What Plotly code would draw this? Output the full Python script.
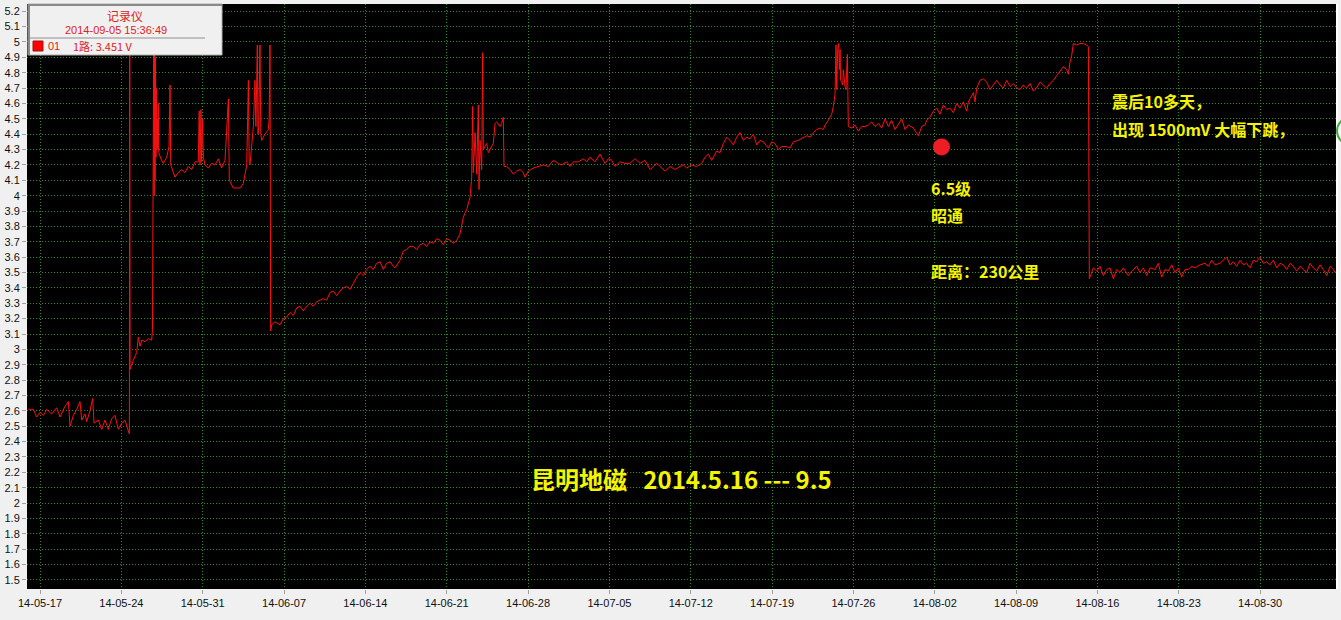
import pandas as pd
import plotly.graph_objects as go

# days since 2014-05-17 00:00, voltage in V
may_days = [-1.00, -0.57, -0.29, 0.00, 0.29, 0.57, 1.00, 1.43, 1.72, 2.15, 2.44, 2.58, 2.87, 3.16, 3.44,
            3.59, 3.87, 4.02, 4.30, 4.53, 4.65, 5.02, 5.31, 5.59, 5.88, 6.17, 6.45, 6.74, 7.03, 7.31,
            7.60, 7.69, 7.72, 7.75, 8.03, 8.32, 8.46, 8.61, 8.75, 9.04, 9.32, 9.61, 9.68,
            9.72, 9.75, 9.78, 9.82, 9.86, 9.90, 9.94, 9.98, 10.02, 10.06, 10.10, 10.14, 10.18, 10.22,
            10.40, 10.61, 10.90, 11.10, 11.19, 11.25, 11.62, 11.90, 12.19, 12.48, 12.76, 13.05, 13.34,
            13.62, 13.70, 13.77, 13.85, 13.91, 13.98, 14.06, 14.20, 14.49, 14.77, 15.06, 15.35, 15.63,
            15.92, 16.21, 16.29, 16.64, 17.21, 17.50, 17.79, 17.93, 18.00, 18.07, 18.22, 18.36, 18.50,
            18.58, 18.70, 18.76, 18.82, 18.93, 19.00, 19.08, 19.36, 19.65, 19.72, 19.79, 19.85]
may_volts = [2.61, 2.61, 2.56, 2.59, 2.57, 2.61, 2.58, 2.62, 2.56, 2.63, 2.66, 2.50, 2.57, 2.61, 2.66,
             2.54, 2.58, 2.53, 2.60, 2.68, 2.52, 2.54, 2.48, 2.54, 2.48, 2.55, 2.57, 2.48, 2.52, 2.54,
             2.47, 2.45, 5.00, 2.87, 2.93, 2.98, 3.08, 3.02, 3.06, 3.05, 3.07, 3.06, 3.13,
             4.90, 3.92, 5.00, 4.00, 4.95, 4.10, 4.90, 4.25, 4.70, 4.30, 4.50, 4.30, 4.60, 4.28,
             4.24, 4.21, 4.25, 4.32, 4.72, 4.20, 4.12, 4.15, 4.17, 4.15, 4.19, 4.17, 4.22,
             4.22, 4.55, 4.20, 4.56, 4.22, 4.50, 4.25, 4.20, 4.18, 4.21, 4.20, 4.24, 4.18,
             4.23, 4.63, 4.10, 4.05, 4.05, 4.08, 4.20, 4.75, 4.22, 4.20, 4.36, 4.45, 4.75,
             4.45, 4.98, 4.40, 4.45, 4.98, 4.40, 4.36, 4.40, 4.43, 4.50, 4.98, 3.12]

june_days = [19.94, 20.22, 20.51, 20.65, 20.94, 21.23, 21.51, 21.80, 22.09, 22.38, 22.66, 22.95, 23.24,
             23.52, 23.81, 24.10, 24.38, 24.67, 24.96, 25.24, 25.53, 25.82, 26.10, 26.39, 26.68, 26.97,
             27.25, 27.54, 27.83, 28.11, 28.40, 28.69, 28.97, 29.26, 29.55, 29.83, 30.12, 30.41, 30.55,
             30.98, 31.27, 31.55, 31.84, 32.13, 32.41, 32.70, 32.99, 33.27, 33.56, 33.85, 34.14, 34.42,
             34.71, 35.00, 35.28, 35.57, 35.86, 36.14, 36.43, 36.72, 37.01, 37.15, 37.23, 37.29, 37.44,
             37.58, 37.72, 37.78, 37.87, 38.01, 38.09, 38.15, 38.44, 38.58, 38.73, 39.01, 39.16, 39.30,
             39.59, 39.73, 39.87, 39.93, 40.16, 40.45, 40.73, 41.02]
june_volts = [3.16, 3.18, 3.17, 3.16, 3.20, 3.21, 3.24, 3.22, 3.27, 3.28, 3.25, 3.28, 3.30,
              3.28, 3.31, 3.32, 3.33, 3.32, 3.37, 3.38, 3.35, 3.38, 3.40, 3.41, 3.39, 3.43,
              3.47, 3.50, 3.48, 3.52, 3.54, 3.52, 3.56, 3.57, 3.52, 3.56, 3.57, 3.54, 3.53,
              3.58, 3.64, 3.65, 3.67, 3.67, 3.65, 3.68, 3.69, 3.67, 3.70, 3.69, 3.72, 3.71,
              3.68, 3.72, 3.71, 3.69, 3.71, 3.75, 3.86, 3.91, 3.99, 4.12, 4.58, 4.15, 4.41,
              4.14, 4.59, 4.04, 4.36, 4.17, 4.93, 4.30, 4.34, 4.28, 4.30, 4.34, 4.47, 4.48,
              4.45, 4.47, 4.51, 4.19, 4.19, 4.17, 4.14, 4.16]

july_days = [41.31, 41.59, 41.74, 42.02, 42.45, 42.89, 43.32, 43.75, 44.18, 44.61, 44.89, 45.33, 45.61,
             45.90, 46.33, 46.76, 47.05, 47.33, 47.76, 48.19, 48.62, 48.91, 49.20, 49.48, 49.91, 50.34,
             50.77, 51.21, 51.64, 52.07, 52.50, 53.07, 53.36, 53.79, 54.22, 54.65, 55.08, 55.36, 55.65,
             56.08, 56.51, 56.94, 57.23, 57.52, 57.80, 58.24, 58.52, 58.81, 59.09, 59.38, 59.67, 59.95,
             60.24, 60.53, 60.82, 61.10, 61.39, 61.68, 61.96, 62.25, 62.68, 62.97, 63.25, 63.54, 63.83,
             64.26, 64.54, 64.83, 65.26]
july_volts = [4.17, 4.15, 4.12, 4.16, 4.18, 4.19, 4.20, 4.19, 4.23, 4.21, 4.20, 4.22, 4.19,
              4.22, 4.22, 4.24, 4.22, 4.25, 4.22, 4.27, 4.21, 4.24, 4.23, 4.19, 4.22, 4.21,
              4.21, 4.24, 4.21, 4.23, 4.17, 4.21, 4.19, 4.16, 4.19, 4.17, 4.19, 4.20, 4.18,
              4.20, 4.19, 4.21, 4.25, 4.27, 4.23, 4.29, 4.28, 4.34, 4.38, 4.36, 4.33, 4.38,
              4.41, 4.36, 4.38, 4.37, 4.40, 4.33, 4.36, 4.35, 4.31, 4.35, 4.34, 4.30, 4.32,
              4.32, 4.31, 4.35, 4.36]

aug_days = [65.69, 65.98, 66.27, 66.55, 66.84, 67.13, 67.41, 67.56, 67.84, 68.13, 68.27, 68.42, 68.50,
            68.56, 68.65, 68.73, 68.79, 68.85, 68.90, 68.99, 69.08, 69.13, 69.28, 69.36, 69.42, 69.48,
            69.56, 69.85, 70.14, 70.42, 70.71, 71.00, 71.29, 71.57, 71.86, 72.15, 72.43, 72.72, 73.01,
            73.29, 73.58, 73.87, 74.16, 74.44, 74.73, 75.16, 75.59, 75.88, 76.16, 76.31, 76.59, 76.88,
            77.17, 77.45, 77.74, 78.03, 78.31, 78.60, 78.89, 79.17, 79.46, 79.75, 79.89, 80.03, 80.32,
            80.46, 80.61, 80.89, 81.18, 81.47, 81.76, 82.04, 82.33, 82.62, 82.90, 83.19, 83.48, 83.76,
            84.05, 84.34, 84.62, 84.91, 85.20, 85.48, 85.77, 86.06, 86.34, 86.63, 86.92, 87.21, 87.49,
            87.78, 88.07, 88.35, 88.50, 88.64, 88.78, 88.93, 89.21, 89.50, 89.79, 90.08, 90.22]
aug_volts = [4.38, 4.39, 4.38, 4.41, 4.43, 4.44, 4.43, 4.46, 4.49, 4.53, 4.58, 4.66, 4.98,
             4.69, 4.95, 4.99, 4.82, 4.95, 4.75, 4.74, 4.72, 4.82, 4.71, 4.69, 4.82, 4.92,
             4.45, 4.44, 4.46, 4.42, 4.45, 4.45, 4.46, 4.48, 4.45, 4.47, 4.44, 4.50, 4.45,
             4.49, 4.43, 4.47, 4.50, 4.43, 4.46, 4.44, 4.39, 4.45, 4.46, 4.49, 4.51, 4.55,
             4.57, 4.53, 4.59, 4.56, 4.57, 4.54, 4.60, 4.57, 4.61, 4.55, 4.61, 4.63, 4.67,
             4.61, 4.70, 4.75, 4.76, 4.74, 4.69, 4.72, 4.75, 4.72, 4.70, 4.75, 4.71, 4.73,
             4.70, 4.69, 4.72, 4.70, 4.73, 4.68, 4.70, 4.74, 4.72, 4.70, 4.73, 4.75, 4.78,
             4.81, 4.84, 4.82, 4.79, 4.87, 4.91, 4.99, 4.98, 4.99, 4.99, 4.98, 4.97]

tail_days = [90.30, 90.65, 90.94, 91.22, 91.51, 91.80, 92.08, 92.37, 92.66, 92.94, 93.23, 93.66, 93.95,
             94.38, 94.66, 94.95, 95.24, 95.53, 95.96, 96.24, 96.53, 96.82, 97.10, 97.39, 97.68, 97.96,
             98.25, 98.54, 98.82, 99.11, 99.40, 99.83, 100.26, 100.54, 100.83, 101.12, 101.55, 101.84,
             102.12, 102.41, 102.70, 102.98, 103.27, 103.56, 103.84, 104.13, 104.42, 104.70, 104.99,
             105.28, 105.57, 105.85, 106.14, 106.43, 106.71, 107.00, 107.29, 107.57, 107.86, 108.15,
             108.43, 108.72, 109.01, 109.29, 109.58, 109.87, 110.15, 110.44, 110.73, 111.02, 111.30, 111.45]
tail_volts = [3.46, 3.53, 3.51, 3.54, 3.48, 3.52, 3.53, 3.46, 3.52, 3.50, 3.53, 3.48, 3.51,
              3.54, 3.50, 3.53, 3.48, 3.53, 3.52, 3.56, 3.47, 3.52, 3.51, 3.55, 3.50, 3.53,
              3.47, 3.52, 3.52, 3.54, 3.53, 3.55, 3.56, 3.54, 3.58, 3.55, 3.56, 3.58,
              3.60, 3.55, 3.57, 3.54, 3.58, 3.55, 3.56, 3.53, 3.58, 3.57, 3.60,
              3.56, 3.57, 3.55, 3.58, 3.53, 3.56, 3.55, 3.52, 3.56, 3.54, 3.51,
              3.54, 3.52, 3.50, 3.56, 3.53, 3.51, 3.55, 3.52, 3.48, 3.54, 3.52, 3.50]

quake_time = ["2014-08-02 14:00"]
quake_volts = [4.317]

y_ticks = [round(1.5 + 0.1 * i, 1) for i in range(38)]
y_labels = [("%g" % v) for v in y_ticks]

W, H = 1341, 620
L, R, T, B = 27, 5, 4, 31
PW, PH = W - L - R, H - T - B


def px(x):
    return (x - L) / PW


def py(y):
    return (H - B - y) / PH


base = pd.Timestamp("2014-05-17")
days = may_days + june_days + july_days + aug_days + tail_days
volts = may_volts + june_volts + july_volts + aug_volts + tail_volts
times = base + pd.to_timedelta(days, unit="D")

fig = go.Figure()
fig.add_trace(go.Scatter(x=times, y=volts, mode="lines",
                         line=dict(color="#ff1010", width=1), hoverinfo="skip"))
fig.add_trace(go.Scatter(x=pd.to_datetime(quake_time), y=quake_volts, mode="markers",
                         marker=dict(color="#ee1c24", size=17), hoverinfo="skip"))

grid = "#2f8a2f"
fig.update_xaxes(range=["2014-05-15 21:07", "2014-09-05 12:43"], tick0="2014-05-17",
                 dtick=7 * 86400000, tickformat="%y-%m-%d", showgrid=True, gridcolor=grid,
                 griddash="1px,2px", gridwidth=1, ticks="outside", ticklen=4, tickcolor="#a0a0a0",
                 zeroline=False, showline=False, automargin=False,
                 tickfont=dict(family="Liberation Sans", size=11, color="#111111"))
fig.update_yaxes(range=[1.441, 5.247], tickvals=y_ticks, ticktext=y_labels, showgrid=True,
                 gridcolor=grid, griddash="1px,2px", gridwidth=1, ticks="outside", ticklen=4,
                 tickcolor="#a0a0a0", zeroline=False, showline=False, automargin=False,
                 tickfont=dict(family="Liberation Sans", size=11, color="#111111"))

shapes = [
    # recorder info box
    dict(type="rect", xref="paper", yref="paper", x0=px(28), x1=px(222), y0=py(55), y1=py(4),
         fillcolor="#f0f0f0", line=dict(color="#b0b0b0", width=1), layer="above"),
    dict(type="line", xref="paper", yref="paper", x0=px(28), x1=px(222), y0=py(5), y1=py(5),
         line=dict(color="#8a8a8a", width=2), layer="above"),
    dict(type="line", xref="paper", yref="paper", x0=px(29), x1=px(29), y0=py(5), y1=py(55),
         line=dict(color="#8a8a8a", width=2), layer="above"),
    dict(type="line", xref="paper", yref="paper", x0=px(30), x1=px(205), y0=py(38), y1=py(38),
         line=dict(color="#909090", width=1), layer="above"),
    dict(type="rect", xref="paper", yref="paper", x0=px(33), x1=px(43), y0=py(51), y1=py(41),
         fillcolor="#ff0000", line=dict(color="#a01010", width=1), layer="above"),
    # right edge strip
    dict(type="line", xref="paper", yref="paper", x0=px(1337), x1=px(1337), y0=py(4), y1=py(589),
         line=dict(color="#ffffff", width=2), layer="above"),
    dict(type="circle", xref="paper", yref="paper", x0=px(1337), x1=px(1365), y0=py(145), y1=py(117),
         fillcolor="#ffffff", line=dict(color="#3cb043", width=2), layer="above"),
]

red = "#dd2222"
yellow = "#f4f400"
cjk = "Noto Sans CJK SC"
ann = [
    dict(x=px(125), y=py(15), text="记录仪", font=dict(family=cjk, size=12, color=red)),
    dict(x=px(116), y=py(30), text="2014-09-05 15:36:49", font=dict(family="Liberation Sans", size=11, color=red)),
    dict(x=px(46), y=py(46), text="01", xanchor="left", font=dict(family="Liberation Sans", size=11, color=red)),
    dict(x=px(71), y=py(46), text="1路: 3.451 V", xanchor="left", font=dict(family=cjk, size=11, color=red)),
    dict(x=px(529), y=py(478), text="<b>昆明地磁\u00a0\u00a0\u00a02014.5.16 --- 9.5</b>", xanchor="left",
         font=dict(family=cjk, size=24, color=yellow)),
    dict(x=px(929), y=py(188), text="<b>6.5级</b>", xanchor="left", font=dict(family=cjk, size=16, color=yellow)),
    dict(x=px(929), y=py(215), text="<b>昭通</b>", xanchor="left", font=dict(family=cjk, size=16, color=yellow)),
    dict(x=px(929), y=py(271), text="<b>距离：230公里</b>", xanchor="left", font=dict(family=cjk, size=16, color=yellow)),
    dict(x=px(1110), y=py(101), text="<b>震后10多天，</b>", xanchor="left", font=dict(family=cjk, size=16, color=yellow)),
    dict(x=px(1110), y=py(129), text="<b>出现 1500mV 大幅下跳，</b>", xanchor="left", font=dict(family=cjk, size=16, color=yellow)),
]
for a in ann:
    a.setdefault("xanchor", "center")
    a.update(xref="paper", yref="paper", yanchor="middle", showarrow=False)

fig.update_layout(
    width=W, height=H,
    margin=dict(l=L, r=R, t=T, b=B),
    paper_bgcolor="#f0f0f0",
    plot_bgcolor="#000000",
    showlegend=False,
    shapes=shapes,
    annotations=ann,
)

# page body has a default 8px margin; drop it so the figure sits at the top-left corner
fig.write_html("out.html", config={"displayModeBar": False},
               post_script="document.body.style.margin='0';document.body.style.overflow='hidden';")
